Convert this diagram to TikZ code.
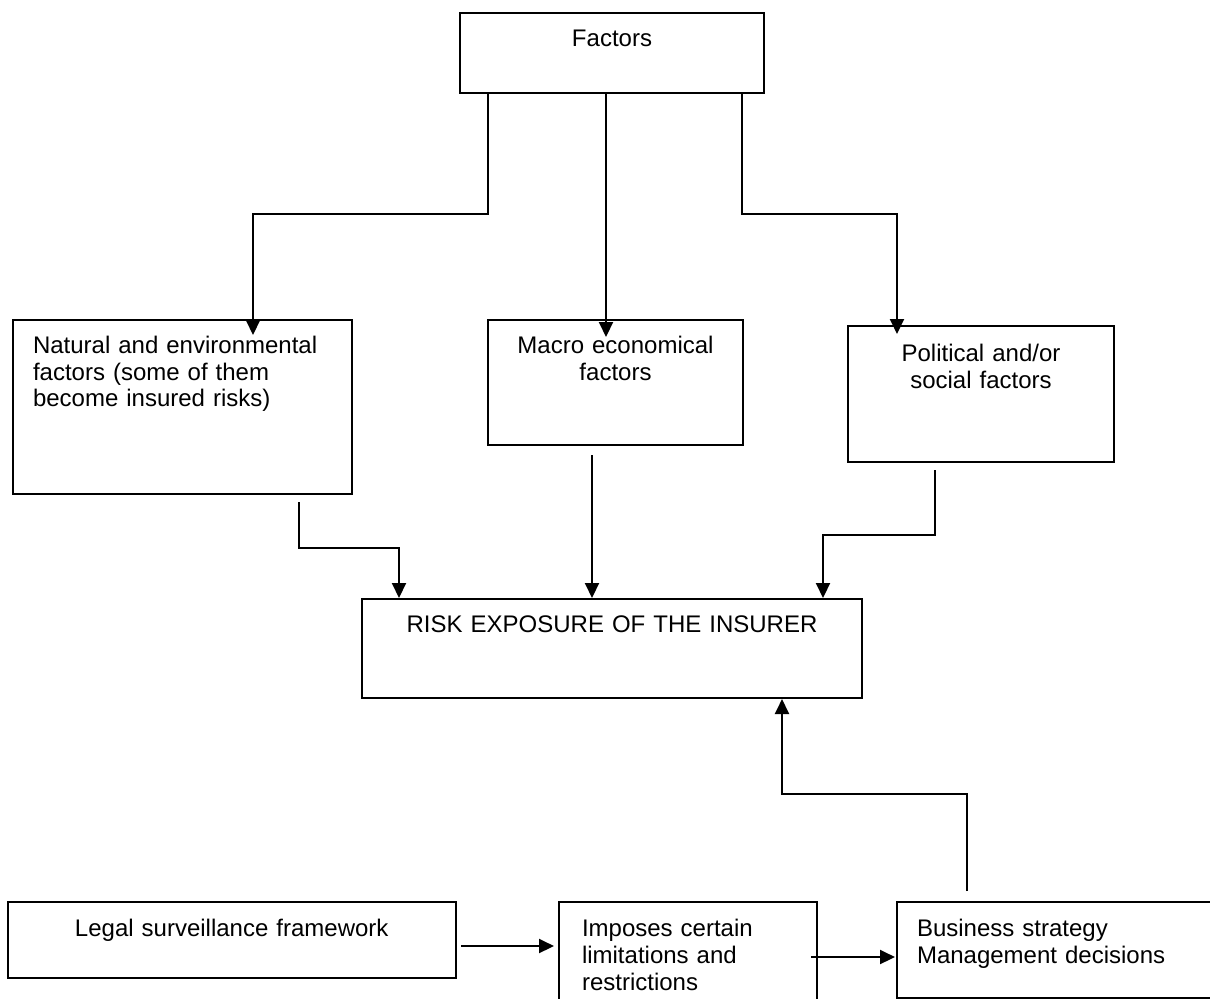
\documentclass[tikz,border=0pt]{standalone}
\usepackage{fontspec}
\setmainfont{Liberation Sans}
\usetikzlibrary{arrows.meta, calc}

\begin{document}
\begin{tikzpicture}[x=0.2mm, y=-0.2mm,
    box/.style={rectangle, draw, line width=0.4mm, anchor=north west, inner ysep=0pt, font=\fontsize{13.66}{15.36}\selectfont},
    arrow/.style={-{Triangle[length=3mm, width=2.8mm]}, line width=0.4mm}
]
    \useasboundingbox (0,0) rectangle (1210,998);

    % Top: Factors
    \node[box, inner xsep=0pt, text width=60.8mm, align=center, text height=6.6mm, text depth=9.4mm] (fac) at (459,12) {Factors};

    % Three kinds of factors
    \node[box, inner xsep=4mm, text width=59.8mm, align=left, text height=6.6mm, text depth=28.2mm] (nat) at (12,319) {Natural and environmental\\factors (some of them\\become insured risks)};
    \node[box, inner xsep=0pt, text width=51mm, align=center, text height=6.6mm, text depth=18.4mm] (mac) at (487,319) {Macro economical\\factors};
    \node[box, inner xsep=0pt, text width=53.2mm, align=center, text height=7mm, text depth=20.2mm] (pol) at (847,325) {Political and/or\\social factors};

    % Centre: risk exposure
    \node[box, inner xsep=0pt, text width=100mm, align=center, text height=6.6mm, text depth=13.2mm] (risk) at (361,598) {RISK EXPOSURE OF THE INSURER};

    % Bottom row
    \node[box, inner xsep=0pt, text width=89.7mm, align=center, text height=6.8mm, text depth=8.4mm] (legal) at (6.5,901) {Legal surveillance framework};
    \node[box, inner xsep=4.6mm, text width=42.4mm, align=left, text height=6.8mm, text depth=16mm] (imp) at (558,901) {Imposes certain\\limitations and\\restrictions};
    \node[box, inner xsep=4mm, text width=55.2mm, align=left, text height=6.8mm, text depth=12.4mm] (bus) at (896,901) {Business strategy\\Management decisions};

    % Arrows from Factors
    \draw[arrow] ($(fac.south west)+(29,0)$) -- ++(0,120) -| ($(nat.north west)+(241,16)$);
    \draw[arrow] ($(fac.south west)+(147,0)$) -- ($(mac.north west)+(119,18)$);
    \draw[arrow] ($(fac.south west)+(283,0)$) -- ++(0,120) -| ($(pol.north west)+(50,9)$);

    % Arrows to risk exposure
    \draw[arrow] ($(nat.south west)+(287,7)$) -- ++(0,46) -| ($(risk.north west)+(38,0)$);
    \draw[arrow] ($(mac.south west)+(105,9)$) -- ($(risk.north west)+(231,0)$);
    \draw[arrow] ($(pol.south west)+(88,7)$) -- ++(0,65) -| ($(risk.north west)+(462,0)$);

    % Bottom chain
    \draw[arrow] ($(legal.north east)+(4,45)$) -- ($(imp.north west)+(-4,45)$);
    \draw[arrow] ($(imp.north west)+(253,56)$) -- ($(bus.north west)+(-1,56)$);
    \draw[arrow] ($(bus.north west)+(71,-10)$) -- ++(0,-97) -| ($(risk.south west)+(421,0)$);
\end{tikzpicture}
\end{document}
